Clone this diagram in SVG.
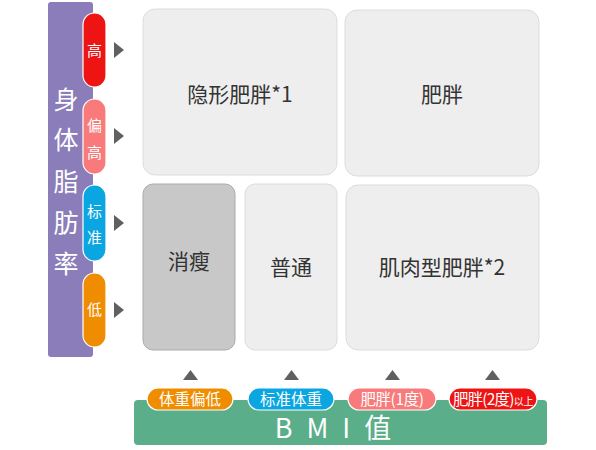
<svg xmlns="http://www.w3.org/2000/svg" width="596" height="450" viewBox="0 0 596 450">
<style>
text{font-family:"Noto Sans CJK SC","Noto Sans",sans-serif;}
.box{fill:#eeeeee;stroke:#dcdcdc;stroke-width:1;}
.lbl{font-size:21px;fill:#333;text-anchor:middle;}
.pill{stroke:#fff;stroke-width:1.2;}
.pt{font-size:15px;fill:#fff;text-anchor:middle;}
.bt{font-size:15.5px;fill:#fff;text-anchor:middle;}
.tri{fill:#606060;}
</style>
<rect width="596" height="450" fill="#fff"/>
<g id="axis-y">
<rect x="48" y="2" width="45" height="355" rx="3" fill="#8b7db9"/>
<text x="66" y="109" font-size="25" fill="#fff" text-anchor="middle">身</text>
<text x="66" y="149" font-size="25" fill="#fff" text-anchor="middle">体</text>
<text x="66" y="191" font-size="25" fill="#fff" text-anchor="middle">脂</text>
<text x="66" y="232" font-size="25" fill="#fff" text-anchor="middle">肪</text>
<text x="66" y="273" font-size="25" fill="#fff" text-anchor="middle">率</text>
</g>
<g id="pill-high"><rect class="pill" x="83" y="13" width="23" height="74" rx="11.5" fill="#ee1414"/><text class="pt" x="94.5" y="56">高</text></g>
<g id="pill-mhigh"><rect class="pill" x="83" y="99" width="23" height="75" rx="11.5" fill="#f87a7a"/><text class="pt" x="94.5" y="131">偏</text><text class="pt" x="94.5" y="158">高</text></g>
<g id="pill-std"><rect class="pill" x="83" y="185" width="23" height="76" rx="11.5" fill="#0aa6e2"/><text class="pt" x="94.5" y="217">标</text><text class="pt" x="94.5" y="243">准</text></g>
<g id="pill-low"><rect class="pill" x="83" y="273" width="23" height="74" rx="11.5" fill="#f08c00"/><text class="pt" x="94.5" y="315">低</text></g>
<g id="connectors">
<polygon class="tri" points="114,42 124,50 114,58"/>
<polygon class="tri" points="114,128 124,136 114,144"/>
<polygon class="tri" points="114,215 124,223 114,231"/>
<polygon class="tri" points="114,302 124,310 114,318"/>
<polygon class="tri" points="183,380 190.5,370 198,380"/>
<polygon class="tri" points="284,380 291.5,370 299,380"/>
<polygon class="tri" points="385,380 392.5,370 400,380"/>
<polygon class="tri" points="485,380 492.5,370 500,380"/>
</g>
<g id="hidden-obese"><rect class="box" x="143" y="9" width="194" height="166" rx="12"/><text class="lbl" x="240" y="102">隐形肥胖*1</text></g>
<g id="obese"><rect class="box" x="345" y="10" width="194" height="166" rx="12"/><text class="lbl" x="442" y="102">肥胖</text></g>
<g id="thin"><rect x="143" y="184" width="92" height="166" rx="10" fill="#c8c8c8" stroke="#aaaaaa"/><text class="lbl" x="189" y="269">消瘦</text></g>
<g id="normal"><rect class="box" x="245" y="184" width="92" height="166" rx="10"/><text class="lbl" x="291" y="275">普通</text></g>
<g id="muscle-obese"><rect class="box" x="346" y="185" width="193" height="165" rx="12"/><text class="lbl" x="442" y="275">肌肉型肥胖*2</text></g>
<g id="axis-x">
<rect x="134" y="400" width="413" height="45" rx="4" fill="#5aae89"/>
<text x="340" y="438" font-size="27" fill="#fff" text-anchor="middle" font-family="Liberation Sans, Noto Sans CJK SC, sans-serif" letter-spacing="14">BMI值</text>
</g>
<g id="bmi-low"><rect class="pill" x="147" y="388" width="86" height="22" rx="11" fill="#f08c00"/><text class="bt" x="190" y="405">体重偏低</text></g>
<g id="bmi-std"><rect class="pill" x="248" y="388" width="86" height="22" rx="11" fill="#0aa6e2"/><text class="bt" x="291" y="405">标准体重</text></g>
<g id="bmi-ob1"><rect class="pill" x="348" y="388" width="88" height="22" rx="11" fill="#f87a7a"/><text class="bt" x="392" y="405" letter-spacing="-0.4">肥胖(1度)</text></g>
<g id="bmi-ob2"><rect class="pill" x="449" y="388" width="88" height="22" rx="11" fill="#ee1414"/><text class="bt" x="493" y="405" letter-spacing="-0.8">肥胖(2度)<tspan font-size="10" letter-spacing="-0.3">以上</tspan></text></g>
</svg>
